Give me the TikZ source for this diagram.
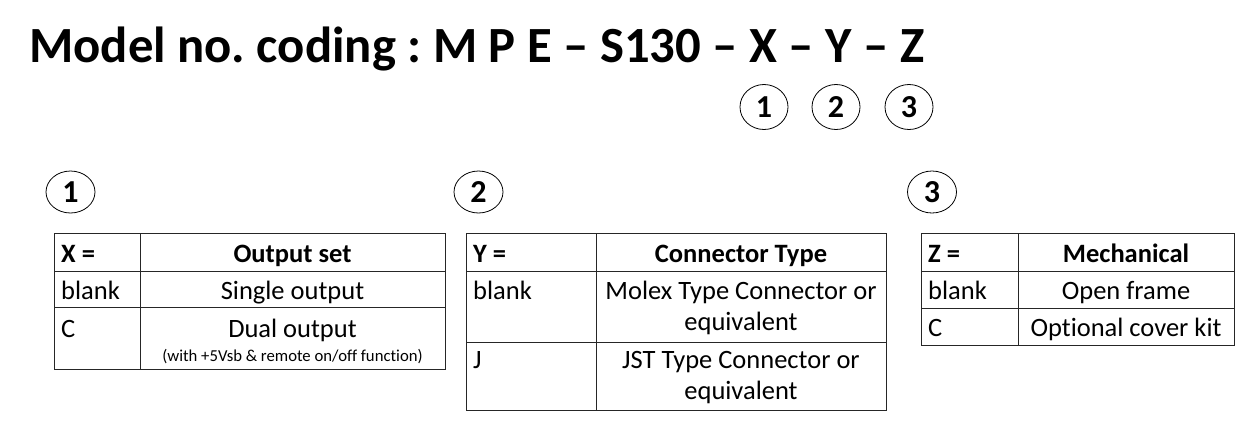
\documentclass[tikz,border=0pt]{standalone}
\usepackage{fontspec}
\usetikzlibrary{shapes.geometric}
\setmainfont{Carlito}[Ligatures=NoCommon]
\begin{document}
\frenchspacing
\begin{tikzpicture}[x=1pt,y=-1pt,
  numc/.style={draw=black,line width=0.8pt,ellipse,minimum width=48pt,minimum height=45pt,inner sep=0pt,font=\fontsize{32}{34}\selectfont\bfseries},
  secc/.style={numc,minimum width=49pt,minimum height=42pt},
  tline/.style={draw=black!85,line width=0.9pt},
  cell/.style={anchor=base,inner sep=0pt,font=\fontsize{26.5}{28}\selectfont},
  lcell/.style={anchor=base west,inner sep=0pt,font=\fontsize{26.5}{28}\selectfont},
  hcell/.style={anchor=base,inner sep=0pt,font=\fontsize{26.5}{28}\selectfont\bfseries},
  lhcell/.style={anchor=base west,inner sep=0pt,font=\fontsize{26.5}{28}\selectfont\bfseries},
  small/.style={anchor=base,inner sep=0pt,font=\fontsize{16.7}{18}\selectfont}]
\useasboundingbox (0,0) rectangle (1236,424);
% title
\node[anchor=base west,inner sep=0pt,font=\fontsize{50.7}{54}\selectfont\bfseries] (title) at (29,62) {Model no. coding : M P E – S130 – X – Y – Z};
\node[numc] (t1) at (764,107) {1};
\node[numc] (t2) at (836,107) {2};
\node[numc] (t3) at (909,107) {3};
% section circles
\node[secc] (s1) at (70.5,192) {1};
\node[secc] (s2) at (478.5,192) {2};
\node[secc] (s3) at (932,192) {3};
% table 1
\draw[tline] (54,233) rectangle (445,369);
\draw[tline] (54,271) -- (445,271) (54,307) -- (445,307) (140,233) -- (140,369);
\node[lhcell] (a0) at (61,262) {X =};
\node[hcell] (a1) at (292.5,262) {Output set};
\node[lcell] (a2) at (61,299) {blank};
\node[cell] (a3) at (292.5,299) {Single output};
\node[lcell] (a4) at (61,337) {C};
\node[cell] (a5) at (292.5,337) {Dual output};
\node[small] (a6) at (292.5,361) {(with +5Vsb \& remote on/off function)};
% table 2
\draw[tline] (466,233) rectangle (886,410);
\draw[tline] (466,271) -- (886,271) (466,342) -- (886,342) (596,233) -- (596,410);
\node[lhcell] (b0) at (473,262) {Y =};
\node[hcell] (b1) at (741,262) {Connector Type};
\node[lcell] (b2) at (473,299) {blank};
\node[cell] (b3) at (741,299) {Molex Type Connector or};
\node[cell] (b4) at (741,330) {equivalent};
\node[lcell] (b5) at (473,368) {J};
\node[cell] (b6) at (741,368) {JST Type Connector or};
\node[cell] (b7) at (741,399) {equivalent};
% table 3
\draw[tline] (921,233) rectangle (1234,345);
\draw[tline] (921,271) -- (1234,271) (921,308) -- (1234,308) (1018,233) -- (1018,345);
\node[lhcell] (c0) at (928,262) {Z =};
\node[hcell] (c1) at (1126,262) {Mechanical};
\node[lcell] (c2) at (928,299) {blank};
\node[cell] (c3) at (1126,299) {Open frame};
\node[lcell] (c4) at (928,336) {C};
\node[cell] (c5) at (1126,336) {Optional cover kit};
\end{tikzpicture}
\end{document}
